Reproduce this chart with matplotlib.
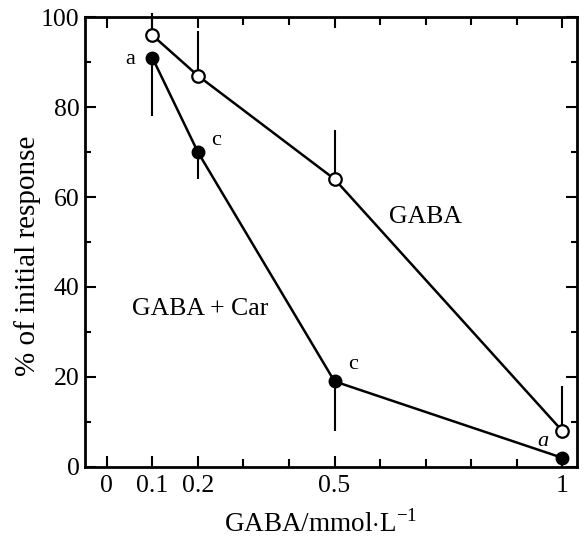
import matplotlib
matplotlib.use("Agg")
import matplotlib.pyplot as plt
from matplotlib.ticker import MultipleLocator, FixedLocator

plt.rcParams['font.family'] = ['Liberation Serif', 'DejaVu Serif']
plt.rcParams['mathtext.fontset'] = 'custom'
plt.rcParams['mathtext.rm'] = 'Liberation Serif'

# Data
conc = [0.1, 0.2, 0.5, 1.0]
gaba = [96, 87, 64, 8]
gaba_err_up = [5, 10, 11, 10]
gaba_car = [91, 70, 19, 2]
gaba_car_err_down = [13, 6, 11, 0]
car_labels = ['a', 'c', 'c', 'a']
xtick_vals = [0, 0.1, 0.2, 0.5, 1]
xtick_labels = ['0', '0.1', '0.2', '0.5', '1']
ytick_vals = [0, 20, 40, 60, 80, 100]

fig = plt.figure(figsize=(5.86, 5.39), dpi=100)
ax = fig.add_axes([0.145, 0.134, 0.84, 0.834])

# Error bars (one-sided)
ax.errorbar(conc, gaba, yerr=[[0]*4, gaba_err_up], fmt='none', ecolor='black',
            elinewidth=1.5, capsize=0, clip_on=False, zorder=2)
ax.errorbar(conc, gaba_car, yerr=[gaba_car_err_down, [0]*4], fmt='none', ecolor='black',
            elinewidth=1.5, capsize=0, clip_on=False, zorder=2)

ax.plot(conc, gaba, '-o', color='black', lw=1.8, ms=9, mfc='white', mec='black',
        mew=1.6, clip_on=False, zorder=3)
ax.plot(conc, gaba_car, '-o', color='black', lw=1.8, ms=9, mfc='black', mec='black',
        clip_on=False, zorder=3)

# Significance letters
offsets = [(-0.048, -0.5), (0.04, 2.5), (0.04, 3.8), (-0.042, 3.6)]
for x, y, lab, (dx, dy) in zip(conc, gaba_car, car_labels, offsets):
    ax.text(x + dx, y + dy, lab, fontsize=16, ha='center', va='center',
            style='italic' if x == 1.0 else 'normal')

ax.text(0.70, 55.5, 'GABA', fontsize=18.5, ha='center', va='center')
ax.text(0.205, 35, 'GABA + Car', fontsize=18.5, ha='center', va='center')

ax.set_xlim(-0.048, 1.033)
ax.set_ylim(0, 100)
ax.xaxis.set_major_locator(FixedLocator(xtick_vals))
ax.set_xticklabels(xtick_labels)
ax.xaxis.set_minor_locator(FixedLocator([0.3, 0.4, 0.6, 0.7, 0.8, 0.9]))
ax.yaxis.set_major_locator(FixedLocator(ytick_vals))
ax.yaxis.set_minor_locator(MultipleLocator(10))

ax.tick_params(axis='both', which='both', direction='in', top=True, right=True,
               width=1.5, labelsize=18.5)
ax.tick_params(axis='both', which='major', length=8)
ax.tick_params(axis='x', which='minor', length=6)
ax.tick_params(axis='y', which='minor', length=4)
ax.tick_params(axis='x', pad=6)
ax.tick_params(axis='y', pad=4)

for s in ax.spines.values():
    s.set_linewidth(2)

ax.set_ylabel('% of initial response', fontsize=21)
ax.yaxis.set_label_coords(-0.09, 0.47)
ax.set_xlabel('GABA/mmol$\\cdot$L$^{-1}$', fontsize=19.5)
ax.xaxis.set_label_coords(0.478, -0.095)

fig.savefig('out.png', dpi=100)
